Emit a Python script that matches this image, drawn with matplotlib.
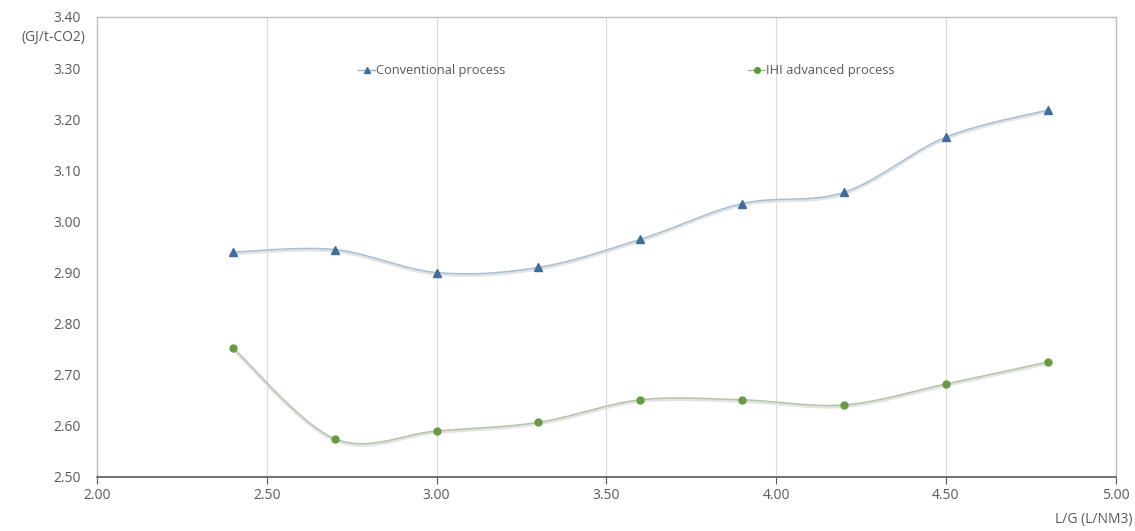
import matplotlib.pyplot as plt
import numpy as np

plt.rcParams['font.family'] = ['Open Sans', 'DejaVu Sans']

lg = [2.4, 2.7, 3.0, 3.3, 3.6, 3.9, 4.2, 4.5, 4.8]
conventional = [2.94, 2.945, 2.90, 2.91, 2.965, 3.035, 3.057, 3.165, 3.218]
ihi_advanced = [2.753, 2.575, 2.59, 2.607, 2.651, 2.651, 2.641, 2.682, 2.725]

x_ticks = [2.0, 2.5, 3.0, 3.5, 4.0, 4.5, 5.0]
y_ticks = [2.5, 2.6, 2.7, 2.8, 2.9, 3.0, 3.1, 3.2, 3.3, 3.4]


def smooth(x, y, n=30):
    # excel-like smoothed line (catmull-rom through the points as bezier)
    x = np.asarray(x, float)
    y = np.asarray(y, float)
    px = np.concatenate([[x[0]], x, [x[-1]]])
    py = np.concatenate([[y[0]], y, [y[-1]]])
    xs, ys = [], []
    t = np.linspace(0, 1, n)
    for i in range(1, len(px) - 2):
        p0 = np.array([px[i], py[i]])
        p3 = np.array([px[i + 1], py[i + 1]])
        c1 = p0 + (np.array([px[i + 1], py[i + 1]]) - np.array([px[i - 1], py[i - 1]])) / 6
        c2 = p3 - (np.array([px[i + 2], py[i + 2]]) - np.array([px[i], py[i]])) / 6
        b = ((1 - t) ** 3)[:, None] * p0 + (3 * (1 - t) ** 2 * t)[:, None] * c1 \
            + (3 * (1 - t) * t ** 2)[:, None] * c2 + (t ** 3)[:, None] * p3
        xs.extend(b[:, 0])
        ys.extend(b[:, 1])
    return xs, ys


fig = plt.figure(figsize=(11.35, 5.31), dpi=100)
ax = fig.add_axes([0.0855, 0.1017, 0.8975, 0.8663])

sx, sy = smooth(lg, conventional)
ax.plot(sx, np.array(sy) - 0.003, color='#e3e3e3', lw=2.2, zorder=2)
ax.plot(sx, sy, color='#a9bfd6', lw=1.1, zorder=3)
ax.plot(lg, conventional, ls='none', marker='^', ms=5.5, color='#3f6e9a', zorder=4)

gx, gy = smooth(lg, ihi_advanced)
ax.plot(gx, np.array(gy) - 0.003, color='#e3e3e3', lw=2.2, zorder=2)
ax.plot(gx, gy, color='#b5c4a8', lw=1.1, zorder=3)
ax.plot(lg, ihi_advanced, ls='none', marker='o', ms=5, color='#6a9a45', zorder=4)

# legend handles
h1, = ax.plot([], [], color='#8fb0d2', lw=1, marker='^', ms=5, mfc='#3f6e9a', mec='#3f6e9a')
h2, = ax.plot([], [], color='#9fbf8a', lw=1, marker='o', ms=4, mfc='#5a9a35', mec='#5a9a35')
leg1 = ax.legend([h1], ['Conventional process'], loc='center left', bbox_to_anchor=(0.245, 0.883),
                 frameon=False, fontsize=9.3, handlelength=1.3, handletextpad=0.1, labelcolor='#595959')
ax.add_artist(leg1)
ax.legend([h2], ['IHI advanced process'], loc='center left', bbox_to_anchor=(0.628, 0.883),
          frameon=False, fontsize=9.3, handlelength=1.3, handletextpad=0.1, labelcolor='#595959')

ax.set_xlim(2.0, 5.0)
ax.set_ylim(2.5, 3.4)
ax.set_xticks(x_ticks)
ax.set_yticks(y_ticks)
ax.set_xticklabels(['%.2f' % v for v in x_ticks])
ax.set_yticklabels(['%.2f' % v for v in y_ticks])
ax.tick_params(axis='x', length=5, color='#595959', labelsize=10, labelcolor='#595959', pad=3)
ax.tick_params(axis='y', length=0, labelsize=10, labelcolor='#595959', pad=12)
ax.grid(axis='x', color='#d9d9d9', lw=0.8)
ax.set_axisbelow(True)

for s in ['left', 'right', 'top']:
    ax.spines[s].set_color('#bfbfbf')
    ax.spines[s].set_linewidth(1)
ax.spines['bottom'].set_color('#595959')
ax.spines['bottom'].set_linewidth(1.2)

fig.text(0.075, 0.93, '(GJ/t-CO2)', ha='right', va='center', fontsize=10, color='#595959')
fig.text(0.998, 0.022, 'L/G (L/NM3)', ha='right', va='center', fontsize=10, color='#595959')

plt.savefig('out.png', dpi=100)
